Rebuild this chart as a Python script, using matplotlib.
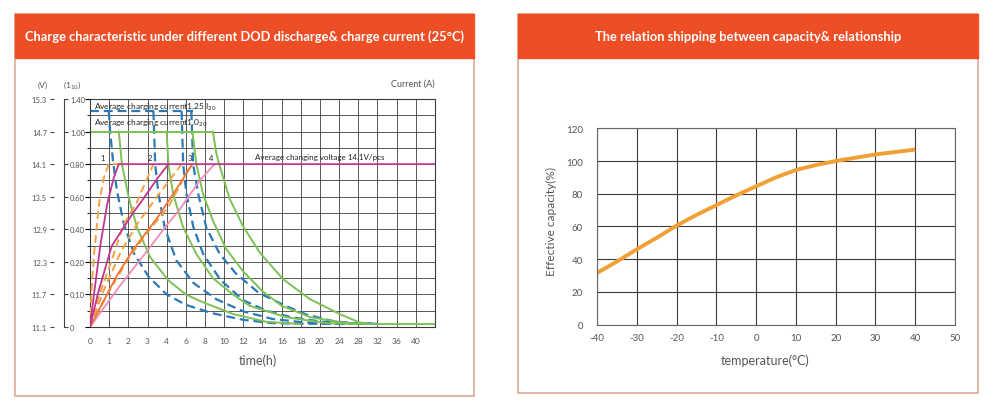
# -*- coding: utf-8 -*-
"""
Две панели: зарядные характеристики при разной глубине разряда
и зависимость ёмкости от температуры.
"""

import numpy as np
import matplotlib
matplotlib.use("Agg")
import matplotlib.pyplot as plt
from matplotlib.patches import Rectangle

plt.rcParams['font.family'] = ['Lato', 'DejaVu Sans']
plt.rcParams['axes.unicode_minus'] = False

# ---------------- данные: левый график ----------------
# неравномерная шкала времени (позиция тика -> часы)
TIME_TICKS = [0, 1, 2, 3, 4, 6, 8, 10, 12, 14, 16, 18, 20, 24, 28, 32, 36, 40]
TIME_EDGE = 44
# неравномерная шкала тока
CURRENT_TICKS = [0, 0.10, 0.20, 0.40, 0.60, 0.80, 1.00, 1.40]
CURRENT_LABELS = ['0', '0.10', '0.20', '0.40', '0.60', '0.80', '1.00', '1.40']
CURRENT_HALF = [0.05, 0.15, 0.30, 0.50, 0.70, 0.90, 1.20]
VOLT_TICKS = [11.1, 11.7, 12.3, 12.9, 13.5, 14.1, 14.7, 15.3]

# ток 1.25 I20 (синий пунктир)
blue_top_t = [0, 6.7]
blue_top_i = [1.25, 1.25]
b1_t = [0.98, 1.05, 1.2, 1.4, 1.75, 2.3, 3.05, 4.0, 6.0, 8.8, 12.0, 15.0, 18.0, 32]
b1_i = [1.25, 1.0, 0.82, 0.64, 0.44, 0.25, 0.155, 0.10, 0.068, 0.042, 0.022, 0.012, 0.01, 0.01]
b2_t = [3.31, 3.4, 3.57, 3.9, 5.0, 6.8, 9.2, 12.0, 15.0, 18.0, 22.0, 32]
b2_i = [1.25, 0.80, 0.62, 0.41, 0.21, 0.135, 0.085, 0.048, 0.025, 0.015, 0.01, 0.01]
b3_t = [5.56, 5.72, 6.06, 6.8, 7.8, 9.6, 12.0, 14.4, 17.0, 20.0, 26.0, 32]
b3_i = [1.25, 0.80, 0.62, 0.41, 0.25, 0.145, 0.082, 0.05, 0.03, 0.017, 0.01, 0.01]
b4_t = [6.58, 6.76, 7.28, 8.14, 9.52, 11.2, 13.6, 16.4, 18.6, 22.8, 28, 32]
b4_i = [1.25, 0.80, 0.62, 0.41, 0.25, 0.165, 0.105, 0.065, 0.038, 0.018, 0.01, 0.01]

# ток 1.0 I20 (зелёные)
green_top_t = [0, 8.82]
green_top_i = [1.0, 1.0]
g1_t = [1.5, 1.67, 2.02, 2.45, 3.14, 4.18, 6.0, 7.46, 10.9, 14.4, 18.0]
g1_i = [1.0, 0.796, 0.596, 0.412, 0.228, 0.143, 0.10, 0.08, 0.04, 0.016, 0.009]
g2_t = [4.0, 4.18, 4.68, 5.72, 7.1, 8.82, 10.9, 12.66, 16.48, 21.3, 28]
g2_i = [1.0, 0.796, 0.616, 0.412, 0.248, 0.15, 0.10, 0.065, 0.03, 0.012, 0.009]
g3_t = [6.68, 7.1, 7.8, 8.82, 10.2, 12.0, 14.0, 16.0, 19.0, 25.6, 30]
g3_i = [1.0, 0.80, 0.616, 0.454, 0.28, 0.17, 0.11, 0.065, 0.03, 0.012, 0.009]
g4_t = [8.82, 9.2, 9.54, 10.58, 11.96, 13.7, 16.14, 18.92, 24.08, 28.24, 30.96, 44]
g4_i = [1.0, 0.86, 0.788, 0.586, 0.42, 0.258, 0.147, 0.086, 0.04, 0.014, 0.009, 0.009]

# напряжение (В), сплошные — при 1.0 I20
m1_t = [0, 0.21, 0.55, 0.9, 1.24, 1.5, 44]
m1_v = [11.1, 11.71, 12.63, 13.37, 13.85, 14.1, 14.1]
m2_t = [0, 0.4, 1.13, 2.26, 2.8, 3.5, 4.18]
m2_v = [11.1, 11.7, 12.59, 13.21, 13.47, 13.83, 14.1]
os_t = [0, 1.39, 2.26, 3.47, 4.34, 5.6, 6.68]
os_v = [11.1, 12.04, 12.53, 13.09, 13.46, 13.8, 14.1]
pk_t = [0, 1.56, 2.78, 3.99, 5.38, 7.46, 9.0]
pk_v = [11.1, 11.86, 12.41, 12.97, 13.27, 13.8, 14.1]
# напряжение, пунктир — при 1.25 I20
o1_t = [0, 0.07, 0.21, 0.47, 0.72, 0.98, 1.6]
o1_v = [11.1, 11.71, 12.44, 13.37, 13.85, 14.1, 14.1]
o2_t = [0, 0.5, 1.21, 1.73, 2.43, 3.31]
o2_v = [11.1, 11.7, 12.41, 12.97, 13.39, 14.1]
o3_t = [0, 0.7, 1.6, 2.5, 3.5, 5.56]
o3_v = [11.1, 11.76, 12.48, 13.02, 13.5, 14.1]
o4_t = [0, 1.0, 2.0, 3.0, 4.2, 6.58]
o4_v = [11.1, 11.76, 12.36, 12.84, 13.32, 14.1]

# ---------------- данные: правый график ----------------
temp_c = [-40, -35, -30, -25, -20, -15, -10, -5, 0, 5, 10, 15, 20, 25, 30, 35, 40]
capacity = [31.5, 38.5, 46, 53, 60.5, 67, 73, 79, 84.5, 90, 94.5, 97.5, 100, 102, 104, 105.5, 107]

# цвета
ORANGE_RED = '#EE4E25'
BORDER = '#D9A897'
BLUE = '#2A79B8'
GREEN = '#7DC157'
MAGENTA = '#C2358F'
ORANGE_D = '#F2A244'
ORANGE_S = '#F37534'
PINK = '#F18CBA'
GRID = '#3C3C3C'
TXT = '#555555'

W, H = 1000, 414


def fx(px):
    return px / W


def fy(py):
    return 1 - py / H


# позиции тиков для кусочно-линейных шкал
t_pos = np.arange(len(TIME_TICKS) + 1)
t_val = np.array(TIME_TICKS + [TIME_EDGE], dtype=float)
i_pos = np.arange(len(CURRENT_TICKS))
i_val = np.array(CURRENT_TICKS, dtype=float)


def t_fwd(t):
    return np.interp(t, t_val, t_pos)


def t_inv(p):
    return np.interp(p, t_pos, t_val)


def i_fwd(c):
    return np.interp(c, i_val, i_pos)


def i_inv(p):
    return np.interp(p, i_pos, i_val)


def panel(fig, x0, x1, y0, y1, title):
    """Рамка панели с оранжевой шапкой."""
    fig.patches.append(Rectangle((fx(x0), fy(y1)), fx(x1 - x0), (y1 - y0) / H,
                                 transform=fig.transFigure, fill=False,
                                 edgecolor=BORDER, lw=1.2))
    fig.patches.append(Rectangle((fx(x0), fy(59)), fx(x1 - x0), (59 - y0) / H,
                                 transform=fig.transFigure, facecolor=ORANGE_RED,
                                 edgecolor=ORANGE_RED, lw=1.0))
    fig.text(fx((x0 + x1) / 2), fy(37), title, color='white', fontsize=9.3,
             fontweight='bold', ha='center', va='center')


fig = plt.figure(figsize=(10, 4.14), dpi=100)

panel(fig, 15, 474, 15, 397,
      'Charge characteristic under different DOD discharge& charge current (25°C)')
panel(fig, 518, 978, 15, 394, 'The relation shipping between capacity& relationship')

# ---------------- левый график ----------------
ax = fig.add_axes([fx(90), fy(328), fx(345), 228 / H])
ax.set_xscale('function', functions=(t_fwd, t_inv))
ax.set_yscale('function', functions=(i_fwd, i_inv))
ax.set_xlim(0, TIME_EDGE)
ax.set_ylim(0, 1.4)
ax.set_xticks(TIME_TICKS, [str(t) for t in TIME_TICKS])
ax.xaxis.set_minor_locator(plt.NullLocator())
ax.set_yticks(CURRENT_TICKS)
ax.set_yticks(CURRENT_HALF, minor=True)
ax.grid(True, which='major', color=GRID, lw=0.7, alpha=0.85)
ax.grid(True, which='minor', axis='y', color=GRID, lw=0.7, alpha=0.85)
ax.set_axisbelow(True)
ax.tick_params(axis='x', length=0, labelsize=6, labelcolor=TXT, pad=7)
ax.tick_params(axis='y', which='both', left=False, labelleft=False)
for s in ax.spines.values():
    s.set_color(GRID)
    s.set_linewidth(0.8)

dash = dict(ls=(0, (4, 2.2)), lw=1.6, color=BLUE)
ax.plot(blue_top_t, blue_top_i, **dash)
for tt, ii in [(b1_t, b1_i), (b2_t, b2_i), (b3_t, b3_i), (b4_t, b4_i)]:
    ax.plot(tt, ii, **dash)
ax.plot(green_top_t, green_top_i, color=GREEN, lw=1.4)
for tt, ii in [(g1_t, g1_i), (g2_t, g2_i), (g3_t, g3_i), (g4_t, g4_i)]:
    ax.plot(tt, ii, color=GREEN, lw=1.4)

# ось тока — отдельная узкая ось, подписи справа от линии
axc = fig.add_axes([fx(63), fy(328), 0.001, 228 / H])
axc.set_yscale('function', functions=(i_fwd, i_inv))
axc.set_ylim(0, 1.4)
axc.set_yticks(CURRENT_TICKS, CURRENT_LABELS)
axc.yaxis.tick_right()
axc.set_xticks([])
axc.patch.set_visible(False)
for s in ['left', 'top', 'bottom']:
    axc.spines[s].set_visible(False)
axc.spines['right'].set_color('#444')
axc.spines['right'].set_linewidth(0.8)
axc.tick_params(axis='y', which='major', direction='out', length=3, width=0.8,
                color='#444', labelsize=5.5, labelcolor=TXT, pad=1.5)
axc.tick_params(axis='y', which='minor', length=0)

# ось напряжения (слева, снаружи)
ax2 = ax.twinx()
ax2.set_ylim(VOLT_TICKS[0], VOLT_TICKS[-1])
ax2.set_yticks(VOLT_TICKS, [f'{v:.1f}' for v in VOLT_TICKS])
ax2.yaxis.tick_left()
ax2.spines['left'].set_position(('outward', 26))
for s in ax2.spines.values():
    s.set_visible(False)
ax2.tick_params(axis='y', direction='out', length=3, width=0.8, color='#444',
                labelsize=5.5, labelcolor=TXT, pad=2)

odash = dict(ls=(0, (4, 2.2)), lw=1.4, color=ORANGE_D)
for tt, vv in [(o1_t, o1_v), (o2_t, o2_v), (o3_t, o3_v), (o4_t, o4_v)]:
    ax2.plot(tt, vv, **odash)
ax2.plot(pk_t, pk_v, color=PINK, lw=1.3)
ax2.plot(os_t, os_v, color=ORANGE_S, lw=1.3)
ax2.plot(m2_t, m2_v, color=MAGENTA, lw=1.3)
ax2.plot(m1_t, m1_v, color=MAGENTA, lw=1.3)

# подписи номеров кривых
for lab, t in zip(['1', '2', '3', '4'], [0.68, 3.13, 6.4, 8.6]):
    ax2.text(t, 14.16, lab, fontsize=5.5, ha='center', va='bottom', color='#222')

ax.text(0.22, 1.31, 'Average charging current1.25 I$_{20}$', fontsize=6,
        color='#222', va='center')
ax.text(0.22, 1.11, 'Average charging current1.0$_{20}$', fontsize=6,
        color='#222', va='center')
ax2.text(13.2, 14.17, 'Average changing voltage 14.1V/pcs', fontsize=5.8,
         color='#222', va='bottom')

fig.text(fx(43), fy(85), '(V)', fontsize=6, color=TXT, ha='center', va='center')
fig.text(fx(72), fy(85), '(1$_{10}$)', fontsize=6, color=TXT, ha='center', va='center')
fig.text(fx(435), fy(84), 'Current (A)', fontsize=6.5, color=TXT, ha='right', va='center')
fig.text(fx(258), fy(361), 'time(h)', fontsize=9, color=TXT, ha='center', va='center')

# ---------------- правый график ----------------
axr = fig.add_axes([fx(597), fy(325.5), fx(358), 196.2 / H])
axr.plot(temp_c, capacity, color='#F0A035', lw=2.8, solid_capstyle='butt')
axr.set_xlim(-40, 50)
axr.set_ylim(0, 120)
axr.set_xticks(range(-40, 51, 10))
axr.set_yticks(range(0, 121, 20))
axr.grid(True, color=GRID, lw=0.8)
axr.set_axisbelow(True)
axr.tick_params(length=0, labelsize=7, labelcolor=TXT)
axr.tick_params(axis='x', pad=6)
axr.tick_params(axis='y', pad=10)
for s in axr.spines.values():
    s.set_color('#666')
    s.set_linewidth(0.8)
fig.text(fx(551), fy(222), 'Effective capacity(%)', rotation=90, fontsize=8.6,
         color=TXT, ha='center', va='center')
fig.text(fx(765), fy(361), 'temperature(°C)', fontsize=9, color=TXT,
         ha='center', va='center')

fig.savefig('out.png', dpi=100)
